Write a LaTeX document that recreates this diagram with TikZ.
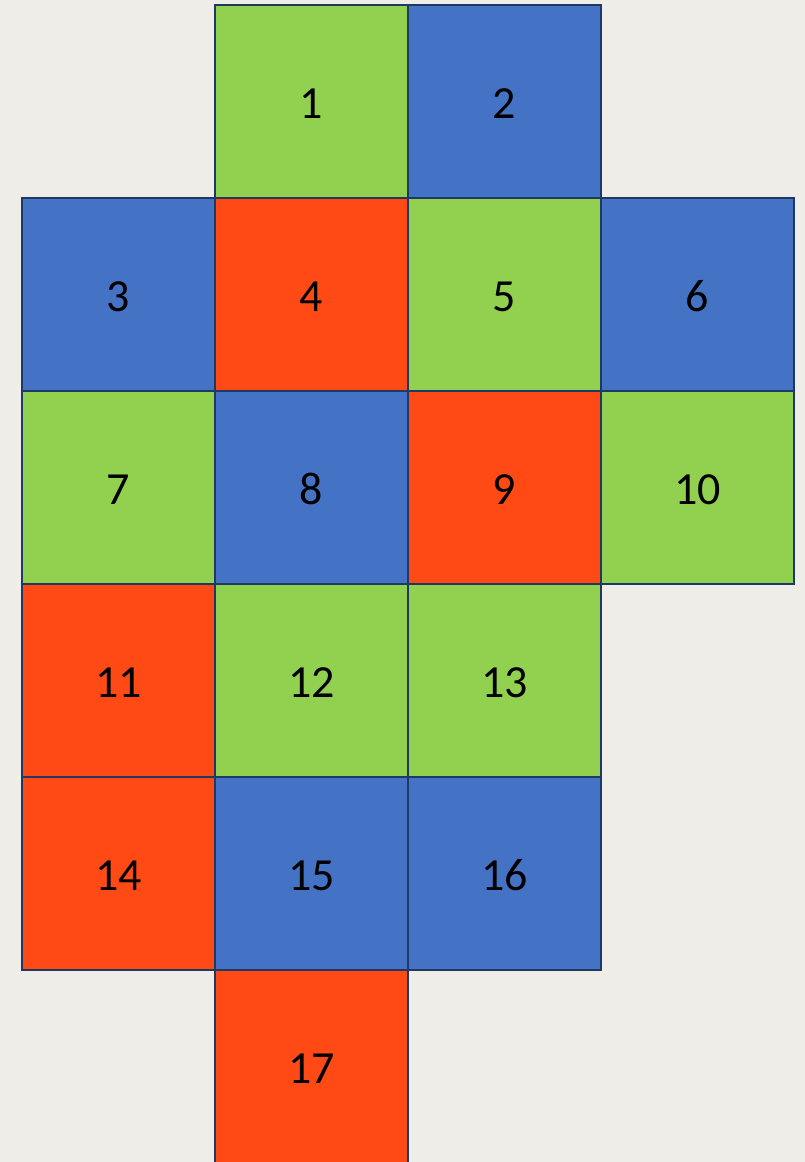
\documentclass[tikz,border=0pt]{standalone}
\usepackage{fontspec}
\setmainfont{Carlito}
\definecolor{bg}{HTML}{EFEDE8}
\definecolor{cgreen}{HTML}{92D050}
\definecolor{cblue}{HTML}{4472C4}
\definecolor{cred}{HTML}{FF4A16}
\definecolor{cedge}{HTML}{1F3864}
\begin{document}
\begin{tikzpicture}[x=1pt,y=-1pt,
  cell/.style={draw=cedge,line width=2.4pt,minimum size=193pt,inner sep=0pt,text=black,
    font=\fontsize{46}{46}\selectfont,text height=33pt,text depth=0pt},
  G/.style={cell,fill=cgreen},
  B/.style={cell,fill=cblue},
  R/.style={cell,fill=cred}]
\fill[bg] (0,0) rectangle (805,1162);
\useasboundingbox (0,0) rectangle (805,1162);
\node[G] (n1) at (311.5,101.5) {1};
\node[B] (n2) at (504.5,101.5) {2};
\node[B] (n3) at (118.5,294.5) {3};
\node[R] (n4) at (311.5,294.5) {4};
\node[G] (n5) at (504.5,294.5) {5};
\node[B] (n6) at (697.5,294.5) {6};
\node[G] (n7) at (118.5,487.5) {7};
\node[B] (n8) at (311.5,487.5) {8};
\node[R] (n9) at (504.5,487.5) {9};
\node[G] (n10) at (697.5,487.5) {10};
\node[R] (n11) at (118.5,680.5) {11};
\node[G] (n12) at (311.5,680.5) {12};
\node[G] (n13) at (504.5,680.5) {13};
\node[R] (n14) at (118.5,873.5) {14};
\node[B] (n15) at (311.5,873.5) {15};
\node[B] (n16) at (504.5,873.5) {16};
\node[R] (n17) at (311.5,1066.5) {17};
\end{tikzpicture}
\end{document}
